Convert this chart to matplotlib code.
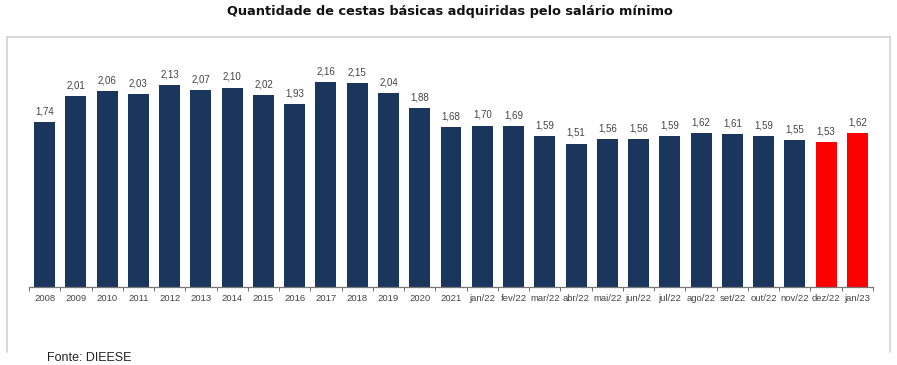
import numpy as np
import matplotlib.pyplot as plt
from matplotlib.lines import Line2D

# dados
periodos = ['2008', '2009', '2010', '2011', '2012', '2013', '2014', '2015',
            '2016', '2017', '2018', '2019', '2020', '2021',
            'jan/22', 'fev/22', 'mar/22', 'abr/22', 'mai/22', 'jun/22',
            'jul/22', 'ago/22', 'set/22', 'out/22', 'nov/22', 'dez/22', 'jan/23']
cestas = [1.74, 2.01, 2.06, 2.03, 2.13, 2.07, 2.10, 2.02, 1.93, 2.16, 2.15,
          2.04, 1.88, 1.68, 1.70, 1.69, 1.59, 1.51, 1.56, 1.56, 1.59, 1.62,
          1.61, 1.59, 1.55, 1.53, 1.62]
destaque = ['dez/22', 'jan/23']

AZUL = '#1b365d'
VERMELHO = '#ff0000'
W, H = 897, 365

plt.rcParams['font.family'] = ['Liberation Sans', 'DejaVu Sans']

fig = plt.figure(figsize=(W / 100, H / 100), dpi=100)

# caixa cinza em volta do gráfico (sem a borda de baixo)
x0, x1, y0, y1 = 7 / W, 890 / W, 1 - 37 / H, 1 - 352 / H
for xs, ys in [([x0, x0], [y1, y0]), ([x0, x1], [y0, y0]), ([x1, x1], [y0, y1])]:
    fig.add_artist(Line2D(xs, ys, color='#cfcfcf', lw=1.1, transform=fig.transFigure))

ax_top = 287 - 2.5 * 95
ax = fig.add_axes([29 / W, 1 - 287 / H, 844 / W, (287 - ax_top) / H])

x = np.arange(len(periodos))
cores = [VERMELHO if p in destaque else AZUL for p in periodos]
ax.bar(x, cestas, width=0.67, color=cores)

for xi, v in zip(x, cestas):
    ax.annotate(f'{v:.2f}'.replace('.', ','), (xi, v), xytext=(0, 4),
                textcoords='offset points', ha='center', va='bottom',
                fontsize=7, color='#444444')

ax.set_xlim(-0.5, len(periodos) - 0.5)
ax.set_ylim(0, 2.5)
ax.set_xticks(x)
ax.set_xticklabels(periodos, fontsize=6.8, color='#444444')
ax.set_xticks(np.arange(-0.5, len(periodos)), minor=True)
ax.tick_params(axis='x', which='major', length=0, pad=5)
ax.tick_params(axis='x', which='minor', length=3, color='#555555', direction='out')
ax.set_yticks([])
for s in ['top', 'left', 'right']:
    ax.spines[s].set_visible(False)
ax.spines['bottom'].set_color('#777777')
ax.spines['bottom'].set_linewidth(0.9)

fig.text(450 / W, 1 - 12 / H, 'Quantidade de cestas básicas adquiridas pelo salário mínimo',
         ha='center', va='center', fontsize=9.3, fontweight='bold',
         family=['DejaVu Sans'], color='#111111')
fig.text(47 / W, 1 - 358 / H, 'Fonte: DIEESE', ha='left', va='center',
         fontsize=9, color='#222222')

fig.savefig('out.png', dpi=100)
